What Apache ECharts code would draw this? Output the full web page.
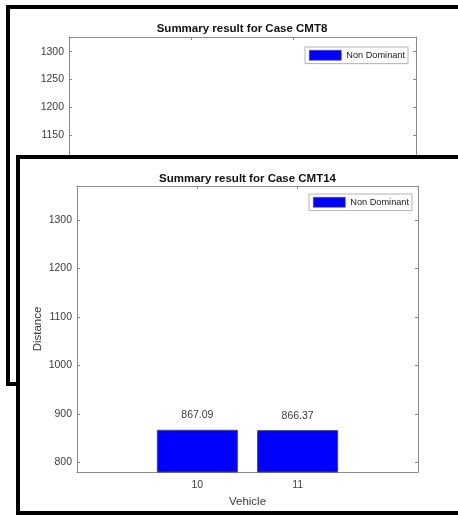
<!DOCTYPE html>
<html>
<head>
<meta charset="utf-8">
<script src="https://cdn.jsdelivr.net/npm/echarts@6/dist/echarts.min.js"></script>
<style>
  html, body { margin: 0; padding: 0; width: 458px; height: 515px; overflow: hidden; background: #fff; }
  .fig { position: absolute; box-sizing: border-box; border: 4px solid #000; background: #fff; }
  #figA { left: 6px; top: 5px; width: 472px; height: 381px; z-index: 1; }
  #figB { left: 16px; top: 155px; width: 463px; height: 360px; z-index: 2; }
  #chartA { width: 464px; height: 373px; }
  #chartB { width: 455px; height: 352px; }
</style>
</head>
<body>
<div class="fig" id="figA"><div id="chartA"></div></div>
<div class="fig" id="figB"><div id="chartB"></div></div>
<script>
// Vehicles on the x axis and total distance per vehicle
const vehicles = [10, 11];
const vehicleTicks = [10, 11];
const seriesName = 'Non Dominant';

// Case CMT14
const cmt14Distance = [867.09, 866.37];
const cmt14YTicks = [800, 900, 1000, 1100, 1200, 1300];

// Case CMT8 (only its upper part is on screen)
const cmt8Distance = [];
const cmt8YTicks = [800, 850, 900, 950, 1000, 1050, 1100, 1150, 1200, 1250, 1300];

const FONT = "'Liberation Sans', Arial, Helvetica, sans-serif";
const AXIS_GRAY = '#8a8a8a';
const LABEL_GRAY = '#3c3c3c';
const plain = v => String(v);

function boxAxis(base, extra) {
  return Object.assign({
    type: 'value',
    splitLine: { show: false },
    axisLine: { show: true, onZero: false, lineStyle: { color: AXIS_GRAY, width: 1 } },
    axisTick: { show: true, inside: true, length: 3, lineStyle: { color: AXIS_GRAY } },
    axisLabel: { show: false }
  }, base, extra);
}

function makeOption(cfg) {
  const xRange = { min: 8.8, max: 12.2 };
  const yRange = { min: cfg.yMin, max: cfg.yMax };
  return {
    animation: false,
    textStyle: { fontFamily: FONT },
    title: {
      text: cfg.title,
      left: 'center',
      top: cfg.titleTop,
      textStyle: { fontFamily: FONT, fontSize: 11.5, fontWeight: 'bold', color: '#111' }
    },
    legend: {
      data: [{ name: seriesName, icon: 'rect' }],
      left: cfg.legendLeft,
      top: cfg.legendTop,
      orient: 'horizontal',
      itemWidth: 32,
      itemHeight: 10,
      padding: [3, 3, 3, 4],
      borderColor: '#b4b4b4',
      borderWidth: 1,
      backgroundColor: '#fff',
      itemStyle: { borderWidth: 0.6, borderColor: '#555' },
      textStyle: { fontFamily: FONT, fontSize: 9.2, color: '#222' }
    },
    grid: {
      left: cfg.grid.left, top: cfg.grid.top, width: cfg.grid.width, height: cfg.grid.height,
      outerBoundsMode: 'none', containLabel: false
    },
    xAxis: [
      boxAxis(xRange, {
        position: 'bottom',
        axisTick: { show: true, inside: true, length: 3, customValues: vehicleTicks, lineStyle: { color: AXIS_GRAY } },
        axisLabel: { show: true, customValues: vehicleTicks, formatter: plain, color: LABEL_GRAY, fontSize: 10.5, fontFamily: FONT, margin: 8 },
        name: 'Vehicle',
        nameLocation: 'middle',
        nameGap: 24,
        nameMoveOverlap: false,
        nameTextStyle: { fontFamily: FONT, fontSize: 11.5, color: LABEL_GRAY }
      }),
      boxAxis(xRange, {
        position: 'top',
        axisTick: { show: true, inside: true, length: 3, customValues: vehicleTicks, lineStyle: { color: AXIS_GRAY } }
      })
    ],
    yAxis: [
      boxAxis(yRange, {
        position: 'left',
        axisTick: { show: true, inside: true, length: 3, customValues: cfg.yTicks, lineStyle: { color: AXIS_GRAY } },
        axisLabel: { show: true, customValues: cfg.yTicks, formatter: plain, color: LABEL_GRAY, fontSize: 10.5, fontFamily: FONT, margin: 5 },
        name: 'Distance',
        nameLocation: 'middle',
        nameGap: 33,
        nameMoveOverlap: false,
        nameTextStyle: { fontFamily: FONT, fontSize: 11.5, color: LABEL_GRAY }
      }),
      boxAxis(yRange, {
        position: 'right',
        axisTick: { show: true, inside: true, length: 3, customValues: cfg.yTicks, lineStyle: { color: AXIS_GRAY } }
      })
    ],
    series: [{
      name: seriesName,
      type: 'bar',
      xAxisIndex: 0,
      yAxisIndex: 0,
      barWidth: 81,
      clip: true,
      data: cfg.values.map((v, i) => [vehicles[i], v]),
      itemStyle: { color: '#0000ff', borderColor: '#4a4a4a', borderWidth: 1 },
      label: {
        show: true,
        position: 'top',
        distance: 9,
        fontFamily: FONT,
        fontSize: 10.5,
        color: LABEL_GRAY,
        formatter: p => p.value[1].toFixed(2)
      }
    }]
  };
}

const chartA = echarts.init(document.getElementById('chartA'), null, { renderer: 'canvas' });
chartA.setOption(makeOption({
  title: 'Summary result for Case CMT8',
  titleTop: 9,
  legendLeft: 295,
  legendTop: 38,
  grid: { left: 59, top: 28, width: 347, height: 307 },
  yMin: 774, yMax: 1326.5,
  yTicks: cmt8YTicks,
  values: cmt8Distance
}));

const chartB = echarts.init(document.getElementById('chartB'), null, { renderer: 'canvas' });
chartB.setOption(makeOption({
  title: 'Summary result for Case CMT14',
  titleTop: 9,
  legendLeft: 289,
  legendTop: 35,
  grid: { left: 57, top: 27, width: 341, height: 286 },
  yMin: 780, yMax: 1370,
  yTicks: cmt14YTicks,
  values: cmt14Distance
}));
</script>
</body>
</html>
